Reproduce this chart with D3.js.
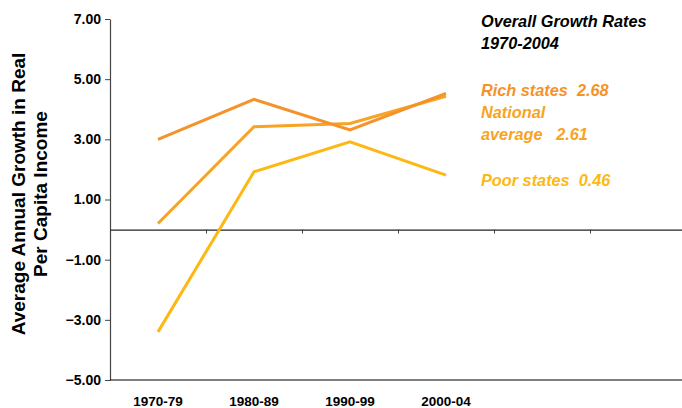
<!DOCTYPE html>
<html><head><meta charset="utf-8">
<script src="https://cdn.jsdelivr.net/npm/d3@7"></script>
<style>
body{margin:0;background:#fff;}
svg{display:block;font-family:"Liberation Sans",Arial,Helvetica,sans-serif;}
</style></head>
<body><svg id="c" width="682" height="408"></svg>
<script>
const categories = ["1970-79","1980-89","1990-99","2000-04","",""];
const periods = ["1970-79","1980-89","1990-99","2000-04"];
const richStates = [3.0, 4.33, 3.31, 4.53];
const nationalAvg = [0.2, 3.42, 3.53, 4.43];
const poorStates = [-3.4, 1.92, 2.92, 1.81];
const yTicks = [-5, -3, -1, 1, 3, 5, 7];
const seriesNames = ["Rich states","National average","Poor states"];
const seriesColors = ["#F5922A","#F8A324","#FDB813"];

const svg = d3.select("#c");
const mLeft = 110, mRight = 686, mTop = 19, mBottom = 380;
const x = d3.scaleBand().domain(categories.map((d,i)=>i)).range([mLeft,mRight]).paddingInner(0).paddingOuter(0);
const y = d3.scaleLinear().domain([-5,7]).range([mBottom,mTop]);

// y axis
const ya = svg.append("g").attr("transform",`translate(${mLeft},0)`)
  .call(d3.axisLeft(y).tickValues(yTicks).tickFormat(d3.format(".2f")).tickSize(5).tickSizeOuter(0));
ya.attr("font-family",null);
ya.select(".domain").attr("stroke","#444").attr("stroke-width",1.2);
ya.selectAll(".tick line").attr("stroke","#444");
ya.selectAll(".tick text").attr("font-size",14).attr("font-weight","bold").attr("fill","#000").attr("x",-9);

// bottom axis line
svg.append("line").attr("x1",mLeft).attr("x2",682).attr("y1",y(-5)).attr("y2",y(-5)).attr("stroke","#000").attr("stroke-width",1.2);

// zero line axis with ticks
const za = svg.append("g").attr("transform",`translate(0,${y(0)})`)
  .call(d3.axisBottom(d3.scaleLinear().domain([mLeft,mRight]).range([mLeft,mRight]))
    .tickValues(categories.map((d,i)=>x(i)).slice(1)).tickSize(4).tickSizeOuter(0).tickFormat(""));
za.select(".domain").attr("stroke","#222").attr("stroke-width",1.2);
za.selectAll(".tick line").attr("stroke","#444");

// category labels
svg.append("g").selectAll("text").data(periods).join("text")
  .attr("x",(d,i)=>x(i)+x.bandwidth()/2).attr("y",405.5)
  .attr("text-anchor","middle").attr("font-size",13.5).attr("font-weight","bold").text(d=>d);

// lines
const line = d3.line().x((d,i)=>x(i)+x.bandwidth()/2).y(d=>y(d));
[poorStates, nationalAvg, richStates].forEach((s,k)=>{
  const idx = 2-k;
  svg.append("path").datum(s).attr("d",line).attr("fill","none")
    .attr("stroke",seriesColors[idx]).attr("stroke-width",3);
});

// y title
const yt = svg.append("text").attr("transform","translate(0,194) rotate(-90)")
  .attr("text-anchor","middle").attr("font-size",19).attr("font-weight","bold");
yt.append("tspan").attr("x",0).attr("y",25).text("Average Annual Growth in Real");
yt.append("tspan").attr("x",0).attr("y",47).text("Per Capita Income");

// annotations
const ann = svg.append("g").attr("font-size",16.3).attr("font-weight","bold").attr("font-style","italic");
ann.append("text").attr("x",481).attr("y",27).attr("fill","#000").text("Overall Growth Rates");
ann.append("text").attr("x",481).attr("y",49).attr("fill","#000").text("1970-2004");
ann.append("text").attr("x",481).attr("y",96).attr("fill",seriesColors[0]).attr("xml:space","preserve").text("Rich states  2.68");
ann.append("text").attr("x",481).attr("y",118).attr("fill",seriesColors[1]).text("National");
ann.append("text").attr("x",481).attr("y",140).attr("fill",seriesColors[1]).attr("xml:space","preserve").text("average   2.61");
ann.append("text").attr("x",481).attr("y",186).attr("fill",seriesColors[2]).attr("xml:space","preserve").text("Poor states  0.46");
</script></body></html>
